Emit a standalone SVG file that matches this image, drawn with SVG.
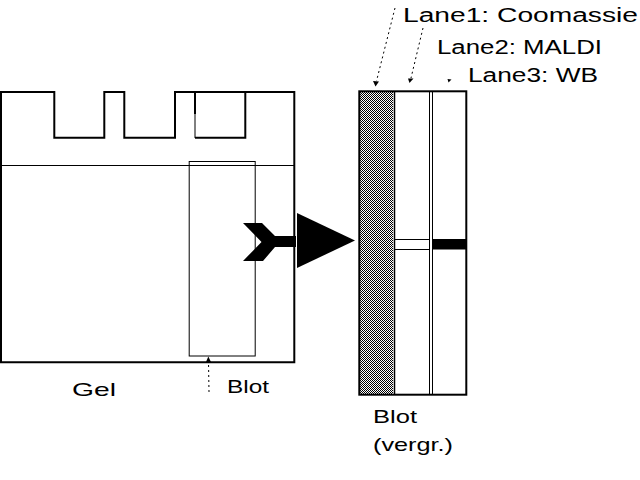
<svg xmlns="http://www.w3.org/2000/svg" width="640" height="480" viewBox="0 0 640 480">
<style>
.t{font-family:"Liberation Sans","DejaVu Sans",sans-serif;font-size:18.5px;fill:#000}
.lt{font-size:19.5px}
.thick{fill:none;stroke:#000;stroke-width:2}
.thin{fill:none;stroke:#000;stroke-width:1}
.dot{fill:none;stroke:#000;stroke-width:1;stroke-dasharray:2 3}
</style>
<defs>
<pattern id="chk" width="2" height="2" patternUnits="userSpaceOnUse">
<rect x="0" y="0" width="2" height="2" fill="#fff"/>
<rect x="0" y="0" width="1" height="1" fill="#000"/>
<rect x="1" y="1" width="1" height="1" fill="#000"/>
</pattern>
</defs>
<rect width="640" height="480" fill="#fff"/>
<g id="gel">
<path class="thick" d="M195,114 L195,92 L245.3,92 M195,137.7 L245.3,137.7 L245.3,92 L294.3,92 L294.3,362.3 L1,362.3 L1,92 L54.3,92 L54.3,137.7 L104.3,137.7 L104.3,92 L124.3,92 L124.3,137.7 L175,137.7 L175,92 L195,92"/>
<line class="thin" x1="195" y1="114" x2="195" y2="138"/>
<line class="thin" x1="0" y1="165.5" x2="294" y2="165.5"/>
<text class="t" x="72" y="396" textLength="44" lengthAdjust="spacingAndGlyphs">Gel</text>
</g>
<g id="blot">
<rect class="thin" x="189.2" y="161.5" width="66" height="194.5"/>
<text class="t" x="227" y="392.5" textLength="42" lengthAdjust="spacingAndGlyphs">Blot</text>
</g>
<g id="blot-enlarged">
<rect x="359" y="91" width="34" height="304" fill="url(#chk)"/>
<line x1="394.5" y1="91" x2="394.5" y2="395" stroke="#000" stroke-width="1.5"/>
<line class="thin" x1="429.5" y1="91" x2="429.5" y2="395"/>
<line class="thin" x1="432.5" y1="91" x2="432.5" y2="395"/>
<line class="thin" x1="395" y1="239.5" x2="429" y2="239.5"/>
<line class="thin" x1="395" y1="249.5" x2="429" y2="249.5"/>
<rect x="433" y="239" width="33" height="10.5" fill="#000"/>
<rect class="thick" x="359.3" y="91.3" width="107" height="303.4"/>
<text class="t" x="373" y="423" textLength="44" lengthAdjust="spacingAndGlyphs">Blot</text>
<text class="t" x="373" y="451" textLength="80" lengthAdjust="spacingAndGlyphs">(vergr.)</text>
</g>
<g id="lane1">
<text class="t lt" x="403" y="22" textLength="235" lengthAdjust="spacingAndGlyphs">Lane1: Coomassie</text>
</g>
<g id="lane2">
<text class="t lt" x="437" y="54" textLength="165" lengthAdjust="spacingAndGlyphs">Lane2: MALDI</text>
</g>
<g id="lane3">
<text class="t lt" x="468" y="82" textLength="130" lengthAdjust="spacingAndGlyphs">Lane3: WB</text>
</g>
<g id="connectors">
<line class="dot" x1="395" y1="8" x2="376.5" y2="81"/>
<polygon points="373,81 379,81.5 375.5,86.5" fill="#000"/>
<line class="dot" x1="423" y1="28" x2="411" y2="78"/>
<polygon points="408,78.5 413.5,78.5 409.5,83" fill="#000"/>
<polygon points="447.5,79 451.5,79.5 448.5,82.5" fill="#000"/>
<line class="dot" x1="209" y1="392" x2="208.5" y2="361"/>
<polygon points="206,362 211,362 208.3,356.5" fill="#000"/>
<polygon points="243,223 262,223 275,236 296,236 296,247 275,247 263,261 243,261 261.5,242" fill="#000"/>
<polygon points="297,213 355,240.5 297,268" fill="#000"/>
</g>
</svg>
